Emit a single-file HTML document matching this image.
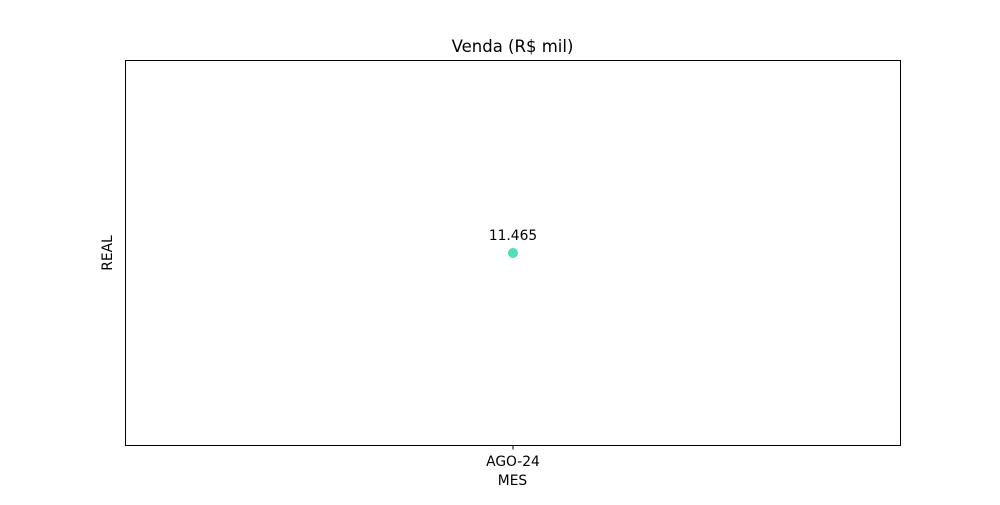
<!DOCTYPE html>
<html><head><meta charset="utf-8"><style>
body{margin:0;background:#fff;width:1000px;height:500px;overflow:hidden}
svg text{font-family:"DejaVu Sans","Liberation Sans",sans-serif;fill:#000}
</style></head><body>
<svg id="chart" width="1000" height="500">
<rect x="0" y="0" width="1000" height="500" fill="#fff"/>
<text x="512.5" y="52" font-size="16.5" text-anchor="middle">Venda (R$ mil)</text>
<rect x="125.5" y="60.5" width="775" height="385" fill="none" stroke="#000" stroke-width="1"/>
<text x="512.5" y="485" font-size="13.8" text-anchor="middle">MES</text>
<text transform="translate(112,253) rotate(-90)" font-size="13.8" text-anchor="middle">REAL</text>
<g id="marks"></g>
</svg>
<script>
const categories = ["AGO-24"];
const values = [11.465];
const labels = ["11.465"];
const x0=125.5,x1=900.5,y0=445.5,y1=60.5;
function xs(i){const n=categories.length;if(n===1)return (x0+x1)/2;const pad=0.05*(n-1);return x0+(i+pad)/(n-1+2*pad)*(x1-x0);}
const mn=Math.min(...values),mx=Math.max(...values);
function ys(v){let lo=mn,hi=mx;if(lo===hi){lo=lo-Math.abs(lo)*0.05||-0.055;hi=hi+Math.abs(hi)*0.05||0.055;}else{const p=(hi-lo)*0.05;lo-=p;hi+=p;}return y0-(v-lo)/(hi-lo)*(y0-y1);}
const g=document.getElementById('marks');const NS="http://www.w3.org/2000/svg";
categories.forEach((c,i)=>{
 const x=xs(i),y=ys(values[i]);
 const t=document.createElementNS(NS,'line');t.setAttribute('x1',x);t.setAttribute('x2',x);t.setAttribute('y1',445.5);t.setAttribute('y2',449.5);t.setAttribute('stroke','#000');
 
 
 g.appendChild(t);
 const tl=document.createElementNS(NS,'text');tl.setAttribute('x',x);tl.setAttribute('y',466);tl.setAttribute('font-size','13.8');tl.setAttribute('text-anchor','middle');tl.textContent=c;
 
 
 g.appendChild(tl);
 const p=document.createElementNS(NS,'circle');p.setAttribute('cx',x);p.setAttribute('cy',y);p.setAttribute('r',5);p.setAttribute('fill','#4fdfb9');
 
 
 g.appendChild(p);
 const l=document.createElementNS(NS,'text');l.setAttribute('x',x);l.setAttribute('y',y-13);l.setAttribute('font-size','13.8');l.setAttribute('text-anchor','middle');l.textContent=labels[i];
 
 
 g.appendChild(l);
});
</script>
</body></html>
